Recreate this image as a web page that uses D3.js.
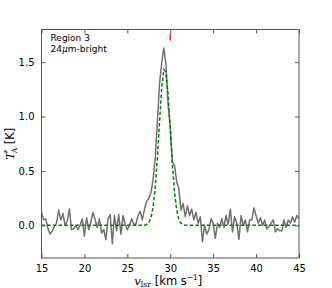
<!DOCTYPE html>
<html lang="en">
<head>
<meta charset="UTF-8">
<title>Region 3 spectrum</title>
<style>
  body, html { margin: 0; padding: 0; background: #fff; }
  svg { display: block; }
  .tick text { font-family: "DejaVu Sans", sans-serif; font-size: 10px; fill: #000; }
</style>
</head>
<body>
<script src="https://d3js.org/d3.v7.min.js"></script>
<script>
// velocity channels (km/s), 0.25 km/s spacing
var velocity = d3.range(121).map(function(i) { return 15 + i * 0.25; });

// observed T_A* (K)
var observed = [
  0.12, 0.05, 0.06, -0.03, -0.08, -0.05, -0.01, 0.02, 0.14, 0.05,
  0.11, 0.00, 0.04, 0.15, -0.04, -0.03, 0.00, -0.04, 0.00, 0.06,
  -0.10, 0.07, -0.04, 0.03, 0.12, 0.05, -0.02, 0.06, -0.07, -0.04,
  -0.13, 0.06, 0.10, -0.17, 0.09, -0.05, 0.10, -0.08, 0.09, 0.01,
  -0.04, 0.00, 0.06, 0.01, 0.01, 0.09, 0.13, 0.05, 0.15, 0.22,
  0.25, 0.30, 0.42, 0.62, 0.95, 1.30, 1.49, 1.63, 1.48, 1.10,
  0.91, 0.58, 0.55, 0.40, 0.34, 0.14, 0.20, 0.08, 0.18, 0.09,
  0.15, 0.05, 0.12, 0.02, 0.08, -0.15, 0.00, -0.08, -0.04, 0.06,
  0.02, -0.12, 0.02, -0.02, 0.06, -0.02, 0.09, 0.01, 0.15, -0.06,
  0.08, 0.02, -0.13, 0.09, 0.00, 0.05, -0.06, 0.05, 0.05, 0.16,
  0.09, 0.02, 0.07, 0.00, 0.05, -0.03, -0.01, 0.02, 0.05, -0.06,
  -0.03, -0.05, -0.05, 0.05, -0.02, 0.05, 0.02, 0.08, 0.03, 0.09,
  0.06
];

// gaussian fit
var fit = [
  0, 0, 0, 0, 0, 0, 0, 0, 0, 0,
  0, 0, 0, 0, 0, 0, 0, 0, 0, 0,
  0, 0, 0, 0, 0, 0, 0, 0, 0, 0,
  0, 0, 0, 0, 0, 0, 0, 0, 0, 0,
  0, 0, 0, 0, 0, 0, 0, 0.001, 0.002, 0.008,
  0.025, 0.070, 0.168, 0.346, 0.617, 0.947, 1.254, 1.433, 1.412, 1.200,
  0.879, 0.556, 0.303, 0.143, 0.058, 0.020, 0.006, 0.001, 0, 0,
  0, 0, 0, 0, 0, 0, 0, 0, 0, 0,
  0, 0, 0, 0, 0, 0, 0, 0, 0, 0,
  0, 0, 0, 0, 0, 0, 0, 0, 0, 0,
  0, 0, 0, 0, 0, 0, 0, 0, 0, 0,
  0, 0, 0, 0, 0, 0, 0, 0, 0, 0,
  0
];

var xTicks = [15, 20, 25, 30, 35, 40, 45];
var yTicks = [0.0, 0.5, 1.0, 1.5];
var markerVelocity = 30;
var labels = ["Region 3", "24\u03BCm-bright"];

var width = 332, height = 288;
var margin = {top: 29.5, right: 33, bottom: 30, left: 41.5};

var svg = d3.select("body").append("svg")
    .attr("width", width)
    .attr("height", height);

var x = d3.scaleLinear().domain([15, 45]).range([margin.left, width - margin.right]);
var y = d3.scaleLinear().domain([-0.3, 1.8]).range([height - margin.bottom, margin.top]);

var x0 = x.range()[0], x1 = x.range()[1];
var y0 = y.range()[0], y1 = y.range()[1];

var plot = svg.append("g");
plot.append("defs").append("clipPath").attr("id", "clip")
  .append("rect").attr("x", x0).attr("y", y1).attr("width", x1 - x0).attr("height", y0 - y1);

var line = d3.line()
    .x(function(d, i) { return x(velocity[i]); })
    .y(function(d) { return y(d); });

plot.append("path")
    .datum(observed)
    .attr("clip-path", "url(#clip)")
    .attr("d", line)
    .attr("fill", "none")
    .attr("stroke", "#707070")
    .attr("stroke-width", 1.5)
    .attr("stroke-linejoin", "round");

plot.append("path")
    .datum(fit)
    .attr("clip-path", "url(#clip)")
    .attr("d", line)
    .attr("fill", "none")
    .attr("stroke", "#008000")
    .attr("stroke-width", 1.5)
    .attr("stroke-dasharray", "3.5,2.2");

// red marker at the reference velocity
svg.append("line")
    .attr("x1", x(markerVelocity)).attr("x2", x(markerVelocity))
    .attr("y1", y1 + 4).attr("y2", y1 + 11)
    .attr("stroke", "#ff3030")
    .attr("stroke-width", 1.5);

// axes with inward ticks on all sides
svg.append("g")
    .attr("transform", "translate(0," + y0 + ")")
    .call(d3.axisBottom(x).tickValues(xTicks).tickSizeInner(-4).tickSizeOuter(0).tickPadding(7).tickFormat(d3.format("d")))
    .call(function(g) { g.select(".domain").remove(); });

svg.append("g")
    .attr("transform", "translate(0," + y1 + ")")
    .call(d3.axisTop(x).tickValues(xTicks).tickSizeInner(-4).tickSizeOuter(0).tickFormat(""))
    .call(function(g) { g.select(".domain").remove(); });

svg.append("g")
    .attr("transform", "translate(" + x0 + ",0)")
    .call(d3.axisLeft(y).tickValues(yTicks).tickSizeInner(-4).tickSizeOuter(0).tickPadding(7).tickFormat(d3.format(".1f")))
    .call(function(g) { g.select(".domain").remove(); });

svg.append("g")
    .attr("transform", "translate(" + x1 + ",0)")
    .call(d3.axisRight(y).tickValues(yTicks).tickSizeInner(-4).tickSizeOuter(0).tickFormat(""))
    .call(function(g) { g.select(".domain").remove(); });

svg.selectAll(".tick line").attr("stroke", "#555");

svg.append("rect")
    .attr("x", x0).attr("y", y1)
    .attr("width", x1 - x0).attr("height", y0 - y1)
    .attr("fill", "none")
    .attr("stroke", "#555")
    .attr("stroke-width", 1);

// annotation
svg.append("text")
    .attr("x", x0 + 9).attr("y", y1 + 11)
    .attr("font-family", "DejaVu Sans, sans-serif").attr("font-size", 9)
    .text(labels[0]);

var t2 = svg.append("text")
    .attr("x", x0 + 9).attr("y", y1 + 22)
    .attr("font-family", "DejaVu Sans, sans-serif").attr("font-size", 9);
t2.append("tspan").text("24");
t2.append("tspan").attr("font-family", "DejaVu Serif, serif").attr("font-style", "italic").text("\u03BC");
t2.append("tspan").text("m-bright");

// x label
var xl = svg.append("text")
    .attr("x", (x0 + x1) / 2 - 2).attr("y", 284.5)
    .attr("text-anchor", "middle")
    .attr("font-family", "DejaVu Sans, sans-serif").attr("font-size", 11.5);
xl.append("tspan").attr("font-family", "DejaVu Serif, serif").attr("font-style", "italic").text("v");
xl.append("tspan").attr("font-family", "DejaVu Serif, serif").attr("font-size", 8).attr("dy", 2).text("lsr");
xl.append("tspan").attr("dy", -2).text(" [km s");
xl.append("tspan").attr("font-size", 7.5).attr("dy", -4.5).text("\u22121");
xl.append("tspan").attr("dy", 4.5).text("]");

// y label
var yl = svg.append("text")
    .attr("transform", "translate(14," + ((y0 + y1) / 2) + ") rotate(-90)")
    .attr("text-anchor", "middle")
    .attr("font-family", "DejaVu Sans, sans-serif").attr("font-size", 11.5);
yl.append("tspan").attr("font-family", "DejaVu Serif, serif").attr("font-style", "italic").text("T");
yl.append("tspan").attr("font-size", 7.5).attr("dy", -5).attr("dx", -1).text("*");
yl.append("tspan").attr("font-family", "DejaVu Serif, serif").attr("font-size", 7.5).attr("dy", 8).attr("dx", -4).text("A");
yl.append("tspan").attr("dy", -3).text(" [K]");
</script>
</body>
</html>
